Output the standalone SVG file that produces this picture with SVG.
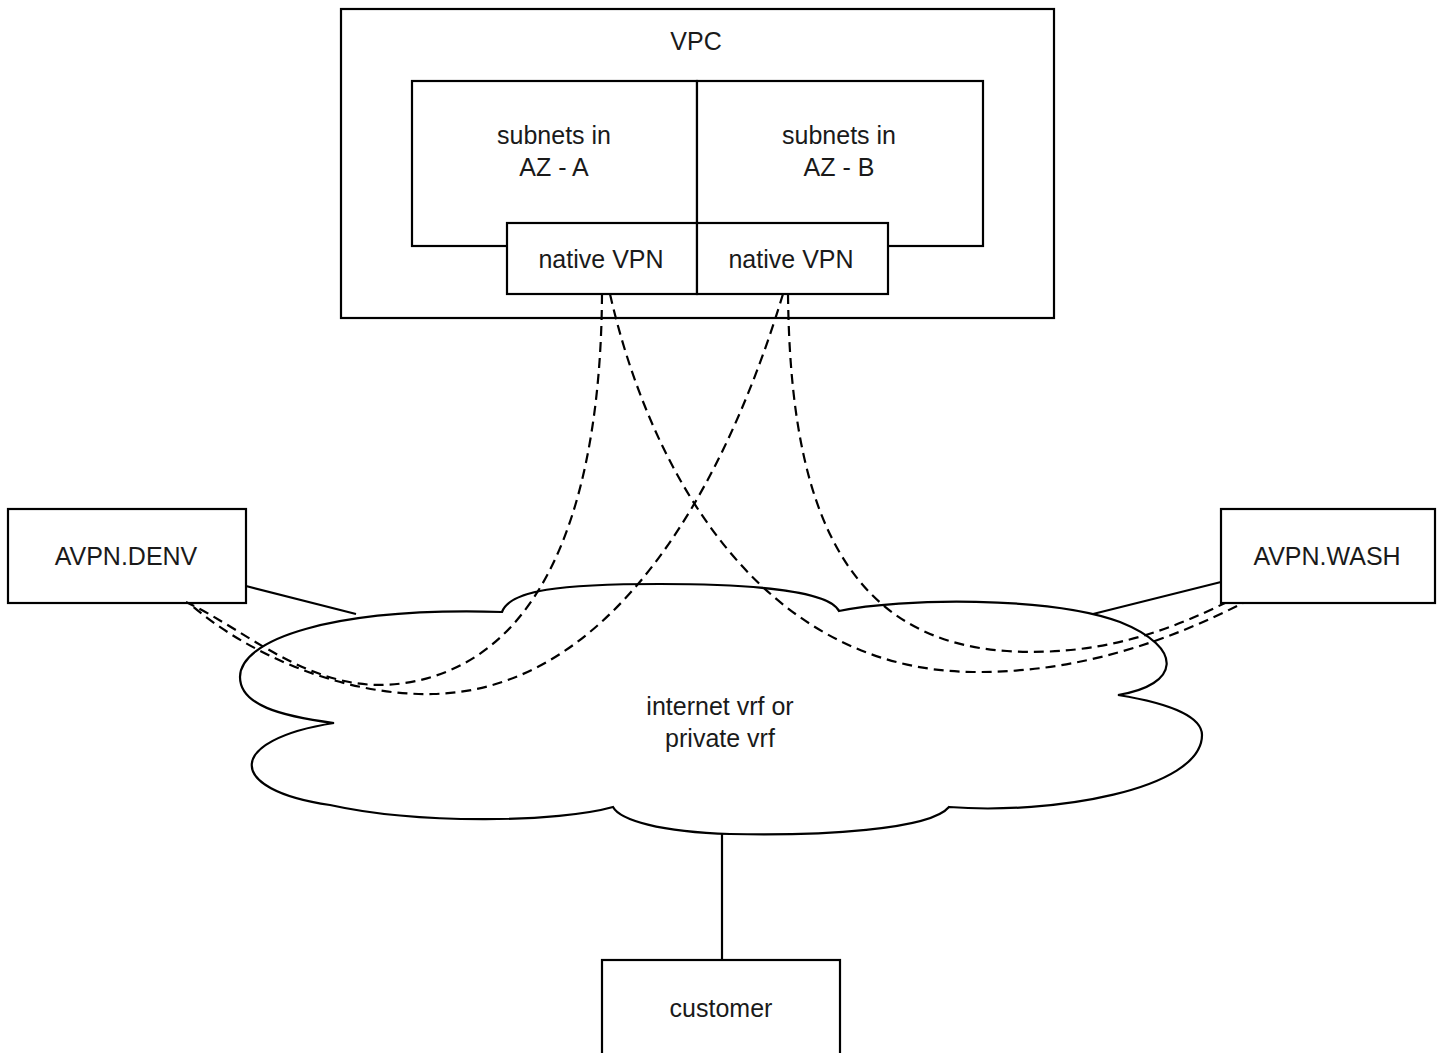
<svg xmlns="http://www.w3.org/2000/svg" width="1445" height="1053" viewBox="0 0 1445 1053">
<style>
.box{fill:#fff;stroke:#000;stroke-width:2.2}
.t{font-family:"Liberation Sans",Arial,sans-serif;font-size:25px;fill:#1a1a1a;text-anchor:middle}
.solid{fill:none;stroke:#000;stroke-width:2.2}
.dash{fill:none;stroke:#000;stroke-width:2.2;stroke-dasharray:10 6}
</style>
<rect width="1445" height="1053" fill="#fff"/>
<g id="vpc">
<rect class="box" x="341" y="9" width="713" height="309"/>
<text class="t" x="696" y="50">VPC</text>
</g>
<g id="subnets-a">
<rect class="box" x="412" y="81" width="285" height="165"/>
<text class="t" x="554" y="144">subnets in</text>
<text class="t" x="554" y="176">AZ - A</text>
</g>
<g id="subnets-b">
<rect class="box" x="697" y="81" width="286" height="165"/>
<text class="t" x="839" y="144">subnets in</text>
<text class="t" x="839" y="176">AZ - B</text>
</g>
<g id="vpn-a">
<rect class="box" x="507" y="223" width="190" height="71"/>
<text class="t" x="601" y="268">native VPN</text>
</g>
<g id="vpn-b">
<rect class="box" x="697" y="223" width="191" height="71"/>
<text class="t" x="791" y="268">native VPN</text>
</g>
<g id="avpn-denv">
<rect class="box" x="8" y="509" width="238" height="94"/>
<text class="t" x="126" y="565">AVPN.DENV</text>
</g>
<g id="avpn-wash">
<rect class="box" x="1221" y="509" width="214" height="94"/>
<text class="t" x="1327" y="565">AVPN.WASH</text>
</g>
<g id="cloud">
<path class="box" d="M334,723 C280,716 240,705 240,677 C240,640 330,607 502,612 C510,590 560,584 660,584 C760,584 830,592 839,611 C900,598 1050,596 1120,622 C1185,648 1180,685 1118,695 C1180,705 1202,720 1202,735 C1202,790 1050,815 949,807 C930,830 820,836 730,834 C660,832 620,820 613,807 C560,822 420,825 330,805 C225,790 225,740 334,723 Z"/>
<text class="t" x="720" y="715">internet vrf or</text>
<text class="t" x="720" y="747">private vrf</text>
</g>
<g id="customer">
<rect class="box" x="602" y="960" width="238" height="120"/>
<text class="t" x="721" y="1017">customer</text>
</g>
<g id="connectors">
<path class="solid" d="M246,586 L356,614"/>
<path class="solid" d="M1221,582 L1093,614"/>
<path class="solid" d="M722,833 L722,960"/>
<path class="dash" d="M602,294 C601,480 555,660 405,683 C315,697 250,632 186,602"/>
<path class="dash" d="M783,294 C730,470 620,690 433,694 C340,696 245,652 190,604"/>
<path class="dash" d="M610,294 C650,470 760,670 973,672 C1080,673 1170,640 1243,603"/>
<path class="dash" d="M788,294 C790,480 830,640 1007,651 C1100,657 1170,630 1225,603"/>
</g>
</svg>
